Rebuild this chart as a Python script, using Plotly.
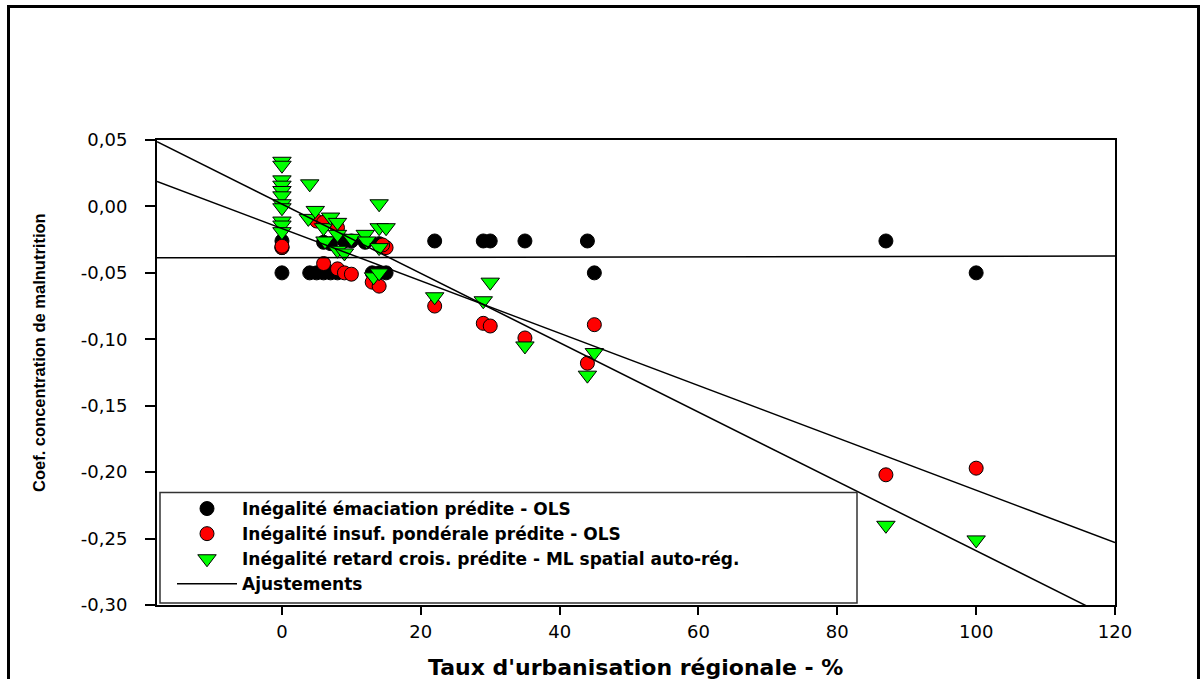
import plotly.graph_objects as go

# ---------------- data ----------------
# Inégalité émaciation prédite - OLS
emac_x = [0, 0, 4, 5, 6, 7, 8, 6, 7, 9, 10, 12, 13, 14, 15, 14, 22, 29, 30, 35, 44, 45, 87, 100]
emac_y = [-0.026, -0.050, -0.050, -0.050, -0.050, -0.050, -0.050, -0.027, -0.028, -0.026,
          -0.026, -0.027, -0.050, -0.050, -0.050, -0.028, -0.026, -0.026, -0.026, -0.026,
          -0.026, -0.050, -0.026, -0.050]

# Inégalité insuf. pondérale prédite - OLS
pond_x = [0, 0, 0, 5, 6, 8, 6, 8, 9, 10, 13, 14, 15, 14.5, 22, 29, 30, 35, 44, 45, 87, 100]
pond_y = [-0.031, -0.031, -0.030, -0.011, -0.012, -0.016, -0.043, -0.047, -0.050, -0.051,
          -0.057, -0.060, -0.031, -0.029, -0.075, -0.088, -0.090, -0.099, -0.118, -0.089,
          -0.202, -0.197]

# Inégalité retard crois. prédite - ML spatial auto-rég.
ret_x = [0, 0, 0, 0, 0, 0, 0, 0, 0, 0, 0,
         4, 3.8, 4.8, 6, 6.2, 7, 8, 8, 8, 9, 10, 12, 12.2, 13.2, 14, 14, 14, 15, 14,
         22, 29, 30, 35, 44, 45, 87, 100]
ret_y = [0.034, 0.031, 0.020, 0.016, 0.012, 0.008, 0.002, -0.001, -0.011, -0.014, -0.019,
         0.017, -0.009, -0.003, -0.016, -0.026, -0.008, -0.012, -0.021, -0.033, -0.035,
         -0.024, -0.021, -0.026, -0.053, -0.050, 0.002, -0.016, -0.016, -0.031,
         -0.068, -0.071, -0.057, -0.105, -0.127, -0.110, -0.240, -0.251]

# Ajustements (intercept, slope)
fit_intercepts = [-0.0385, -0.0166, 0.0018]
fit_slopes = [0.00001, -0.00197, -0.00261]

x_range = [-18, 120]
y_range = [-0.30, 0.05]
x_ticks = [0, 20, 40, 60, 80, 100, 120]
x_ticklabels = ["0", "20", "40", "60", "80", "100", "120"]
y_ticks = [0.05, 0.00, -0.05, -0.10, -0.15, -0.20, -0.25, -0.30]
y_ticklabels = ["0,05", "0,00", "-0,05", "-0,10", "-0,15", "-0,20", "-0,25", "-0,30"]

names = ["Inégalité émaciation prédite - OLS",
         "Inégalité insuf. pondérale prédite - OLS",
         "Inégalité retard crois. prédite - ML spatial auto-rég.",
         "Ajustements"]
x_title = "Taux d'urbanisation régionale - %"
y_title = "Coef. concentration de malnutrition"

# ---------------- figure ----------------
W, H = 1204, 679
ML, MR, MT, MB = 157, 89, 140, 74
pw, ph = W - ML - MR, H - MT - MB


def px2paper_x(p):
    return (p - ML) / pw


def px2paper_y(p):
    return (H - MB - p) / ph


fig = go.Figure()
fig.add_trace(go.Scatter(x=emac_x, y=emac_y, mode="markers", name=names[0],
                         marker=dict(symbol="circle", size=14, color="#000000",
                                     line=dict(color="#000000", width=1))))
fig.add_trace(go.Scatter(x=pond_x, y=pond_y, mode="markers", name=names[1],
                         marker=dict(symbol="circle", size=14, color="#ff0000",
                                     line=dict(color="#000000", width=1))))
fig.add_trace(go.Scatter(x=ret_x, y=ret_y, mode="markers", name=names[2],
                         marker=dict(symbol="triangle-down", size=16, color="#00ff00",
                                     line=dict(color="#000000", width=1))))
for i, (b0, b1) in enumerate(zip(fit_intercepts, fit_slopes)):
    xs = list(x_range)
    ys = [b0 + b1 * v for v in xs]
    fig.add_trace(go.Scatter(x=xs, y=ys, mode="lines", name=names[3],
                             legendgroup="fit", showlegend=(i == 0),
                             line=dict(color="#000000", width=1.5)))

# outer frame of the picture
fig.add_shape(type="rect", xref="paper", yref="paper",
              x0=px2paper_x(8.5), x1=px2paper_x(1198.5),
              y0=px2paper_y(700), y1=px2paper_y(6.5),
              line=dict(color="#000000", width=3), fillcolor="rgba(0,0,0,0)")
# legend frame
fig.add_shape(type="rect", xref="paper", yref="paper",
              x0=px2paper_x(160), x1=px2paper_x(857),
              y0=px2paper_y(603), y1=px2paper_y(492.5),
              line=dict(color="#333333", width=1.5), fillcolor="rgba(0,0,0,0)")

# y-axis title placed like the reference
fig.add_annotation(text=y_title, xref="paper", yref="paper",
                   x=px2paper_x(39), y=px2paper_y(353), xanchor="center", yanchor="middle",
                   textangle=-90, showarrow=False,
                   font=dict(family="Liberation Sans", size=16.5, weight="bold", color="#000000"))
# x-axis title placed like the reference
fig.add_annotation(text=x_title, xref="paper", yref="paper",
                   x=px2paper_x(635), y=px2paper_y(667), xanchor="center", yanchor="middle",
                   showarrow=False,
                   font=dict(family="DejaVu Sans", size=22, weight="bold", color="#000000"))

fig.update_layout(
    width=W, height=H,
    margin=dict(l=ML, r=MR, t=MT, b=MB, autoexpand=False),
    paper_bgcolor="#ffffff", plot_bgcolor="#ffffff",
    font=dict(family="DejaVu Sans", color="#000000"),
    showlegend=True,
    legend=dict(x=px2paper_x(172), y=px2paper_y(491), xanchor="left", yanchor="top",
                bgcolor="rgba(0,0,0,0)", borderwidth=0,
                font=dict(family="DejaVu Sans", size=17, color="#000000", weight="bold"),
                itemwidth=60, tracegroupgap=0),
    xaxis=dict(range=x_range, tickvals=x_ticks, ticktext=x_ticklabels, automargin=False,
               showgrid=False, zeroline=False, showline=True, linecolor="#000000",
               linewidth=2, mirror=True, ticks="outside", ticklen=8, tickwidth=2,
               tickcolor="#000000", tickfont=dict(family="DejaVu Sans", size=18),
               ticklabelstandoff=1),
    yaxis=dict(range=y_range, tickvals=y_ticks, ticktext=y_ticklabels, automargin=False,
               showgrid=False, zeroline=False, showline=True, linecolor="#000000",
               linewidth=2, mirror=True, ticks="outside", ticklen=10, tickwidth=2,
               tickcolor="#000000", tickfont=dict(family="DejaVu Sans", size=18),
               ticklabelstandoff=14),
)

fig.write_html("out.html", config={"displayModeBar": False},
               post_script="document.body.style.margin='0px';document.body.style.overflow='hidden';")
